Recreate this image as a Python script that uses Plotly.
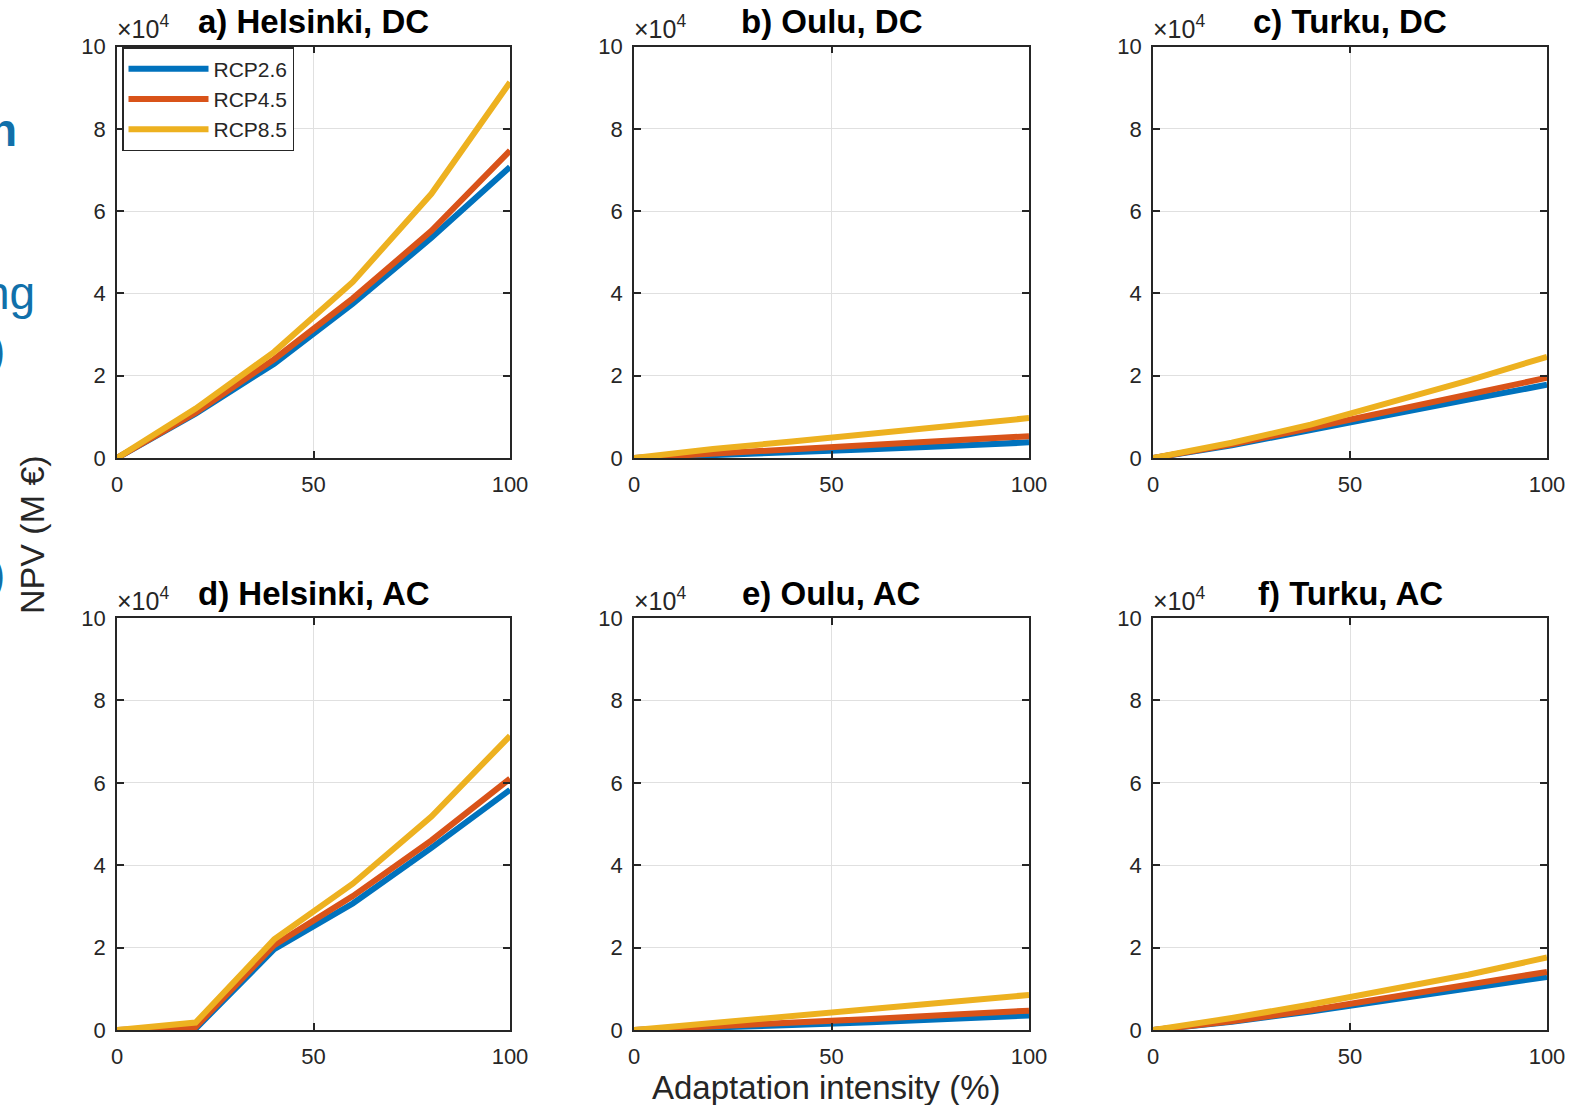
import plotly.graph_objects as go

# ---------------- data ----------------
intensity = [0, 20, 40, 60, 80, 100]  # Adaptation intensity (%)
scenarios = ["RCP2.6", "RCP4.5", "RCP8.5"]
colors = ["#0072BD", "#D95319", "#EDB120"]

panel_titles = ["a) Helsinki, DC", "b) Oulu, DC", "c) Turku, DC",
                "d) Helsinki, AC", "e) Oulu, AC", "f) Turku, AC"]

# NPV (M EUR)
helsinki_dc = {
    "RCP2.6": [0, 10800, 22900, 37500, 53500, 70700],
    "RCP4.5": [0, 11000, 24000, 38800, 55200, 74700],
    "RCP8.5": [0, 12000, 25800, 42800, 64200, 91300],
}
oulu_dc = {
    "RCP2.6": [0, 600, 1300, 2100, 2900, 3800],
    "RCP4.5": [0, 1000, 2000, 3100, 4200, 5300],
    "RCP8.5": [0, 2200, 4000, 5900, 7800, 9700],
}
turku_dc = {
    "RCP2.6": [0, 3100, 6800, 10600, 14200, 17800],
    "RCP4.5": [0, 3300, 7300, 11400, 15500, 19500],
    "RCP8.5": [0, 3700, 8100, 13300, 18800, 24600],
}
helsinki_ac = {
    "RCP2.6": [0, 300, 19600, 30700, 44200, 58300],
    "RCP4.5": [0, 700, 20600, 32500, 46000, 61000],
    "RCP8.5": [0, 1800, 22000, 35500, 51800, 71400],
}
oulu_ac = {
    "RCP2.6": [0, 500, 1200, 1900, 2700, 3500],
    "RCP4.5": [0, 800, 1700, 2700, 3700, 4700],
    "RCP8.5": [0, 1800, 3400, 5100, 6800, 8500],
}
turku_ac = {
    "RCP2.6": [0, 2000, 4500, 7300, 10000, 12900],
    "RCP4.5": [0, 2100, 4800, 7800, 10800, 14100],
    "RCP8.5": [0, 2900, 6200, 9700, 13400, 17600],
}
panels = [helsinki_dc, oulu_dc, turku_dc, helsinki_ac, oulu_ac, turku_ac]

y_tickvals = [0, 20000, 40000, 60000, 80000, 100000]
y_ticktext = ["0", "2", "4", "6", "8", "10"]
x_tickvals = [0, 50, 100]

# ---------------- layout geometry ----------------
W, H = 1586, 1105


def px(xp):
    return xp / W


def py(yp):
    return 1 - yp / H


col_px = [(117, 510), (634, 1029), (1153, 1547)]
row_px = [(46.5, 458), (618, 1030)]

fig = go.Figure()
layout = dict(
    template="none",
    width=W, height=H, margin=dict(l=0, r=0, t=0, b=0, pad=0, autoexpand=False),
    paper_bgcolor="white", plot_bgcolor="white",
    font=dict(family="Liberation Sans, Arial, sans-serif", color="#262626", size=20),
    showlegend=True,
)
annotations = []
TXT = "#262626"

for i, data in enumerate(panels):
    r, c = divmod(i, 3)
    ax = "" if i == 0 else str(i + 1)
    x0, x1 = col_px[c]
    yt, yb = row_px[r]
    xd = [px(x0), px(x1)]
    yd = [py(yb), py(yt)]
    for s, col in zip(scenarios, colors):
        fig.add_trace(go.Scatter(
            x=intensity, y=data[s], mode="lines", name=s,
            line=dict(color=col, width=6),
            xaxis="x" + ax, yaxis="y" + ax,
            showlegend=(i == 0), legendgroup=s,
        ))
    common = dict(showline=True, linecolor=TXT, linewidth=1.5, mirror="ticks",
                  ticks="inside", ticklen=7, tickwidth=1.5, tickcolor=TXT,
                  showgrid=True, gridcolor="#e0e0e0", gridwidth=1, automargin=False,
                  zeroline=False, tickfont=dict(size=22, color=TXT))
    layout["xaxis" + ax] = dict(common, domain=xd, range=[0, 100], tickvals=x_tickvals,
                                anchor="y" + ax, ticklabelstandoff=6)
    layout["yaxis" + ax] = dict(common, domain=yd, range=[0, 100000], tickvals=y_tickvals,
                                ticktext=y_ticktext, anchor="x" + ax, ticklabelstandoff=5)
    # title
    annotations.append(dict(text="<b>" + panel_titles[i] + "</b>", xref="paper", yref="paper",
                            x=(xd[0] + xd[1]) / 2, y=py(yt - 25), xanchor="center",
                            yanchor="middle", showarrow=False,
                            font=dict(size=33, color="black")))
    # exponent label
    annotations.append(dict(text="×10<sup>4</sup>", xref="paper", yref="paper",
                            x=xd[0] - 2 / W, y=py(yt - 1), xanchor="left",
                            yanchor="bottom", showarrow=False,
                            font=dict(size=25, color=TXT)))

# axis labels
annotations.append(dict(text="NPV (M €)", xref="paper", yref="paper", x=px(32), y=py(535),
                        textangle=-90, showarrow=False, xanchor="center", yanchor="middle",
                        font=dict(size=34, color=TXT)))
annotations.append(dict(text="Adaptation intensity (%)", xref="paper", yref="paper",
                        x=px(826), y=py(1087), showarrow=False, xanchor="center",
                        yanchor="middle", font=dict(size=33, color=TXT)))

# cropped text fragments at the left edge
blue = "#1170AA"
for txt, xr, yc, bold in [("n", 19, 130, True), ("ng", 37, 293, False),
                          (")", 7, 350, False), (")", 7, 574, False)]:
    annotations.append(dict(text=("<b>%s</b>" % txt) if bold else txt, xref="paper", yref="paper",
                            x=px(xr), y=py(yc), xanchor="right", yanchor="middle",
                            showarrow=False, font=dict(size=46, color=blue)))

layout["annotations"] = annotations
layout["legend"] = dict(x=px(122), y=py(47), xanchor="left", yanchor="top",
                        bgcolor="white", bordercolor=TXT, borderwidth=1.5,
                        font=dict(size=21, color=TXT), tracegroupgap=0,
                        itemwidth=80)
fig.update_layout(**layout)
fig.write_html("out.html", config={"displayModeBar": False},
               post_script="document.body.style.margin='0px';")
